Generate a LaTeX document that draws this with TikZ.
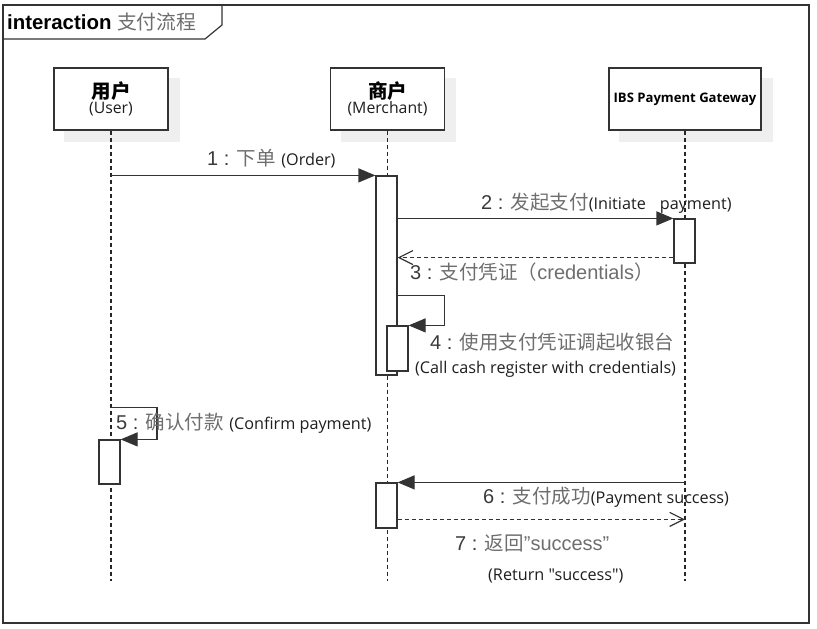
\documentclass[tikz,border=0pt]{standalone}
\usepackage{fontspec}
\setmainfont{Liberation Sans}
\newfontfamily\cjk{Noto Sans CJK SC}
\newfontfamily\segf{Open Sans}
\usetikzlibrary{arrows.meta,backgrounds}
\definecolor{framecol}{HTML}{333333}
\definecolor{numcol}{HTML}{3A3A3A}
\definecolor{cncol}{HTML}{6E6E6E}
\definecolor{engcol}{HTML}{1E1E1E}
\definecolor{shadowcol}{HTML}{EFEFEF}
\tikzset{
  lw/.style={line width=1.2pt, draw=framecol},
  headbox/.style={lw, fill=white, rectangle, minimum height=62pt, inner sep=0pt, align=center,
    font=\segf\fontsize{15.8}{19}\selectfont, text=engcol},
  lifeline/.style={line width=1.2pt, draw=black!85, dash pattern=on 4pt off 3pt},
  actbox/.style={lw, fill=white, rectangle, minimum width=21pt, inner sep=0pt},
  msg/.style={lw, -{Triangle[length=17pt,width=14pt]}},
  retmsg/.style={lw, dash pattern=on 4pt off 3pt, -{Straight Barb[length=14pt,width=14pt,line width=1.2pt]}},
  lbl/.style={inner sep=0pt, anchor=west, text=numcol},
  numtxt/.style={font=\fontsize{20}{20}\selectfont},
}
\newcommand{\cn}[1]{{\cjk\fontsize{19.5}{20}\selectfont\color{cncol}#1}}
\newcommand{\en}[1]{{\segf\fontsize{16.2}{16}\selectfont\color{engcol}#1}}
\begin{document}
\begin{tikzpicture}[x=1pt,y=-1pt]
\useasboundingbox (0,0) rectangle (817,629);
% frame
\draw[lw] (3,5) rectangle (809,623);
\draw[lw] (3,39) -- (205,39) -- (222,25) -- (222,5);
\node[inner sep=0pt, anchor=west] (title) at (7,22)
  {\fontsize{20.4}{20}\selectfont\bfseries interaction\mdseries\ \cjk\color{cncol}\fontsize{19.8}{20}\selectfont 支付流程};

% lifeline heads
\node[headbox, minimum width=114pt] (user) at (111,99)
  {{\cjk\bfseries\fontsize{19.5}{19}\selectfont\color{black} 用户}\\[-4pt](User)};
\node[headbox, minimum width=114pt] (merch) at (387.5,99)
  {{\cjk\bfseries\fontsize{19.5}{19}\selectfont\color{black} 商户}\\[-4pt](Merchant)};
\node[headbox, minimum width=152pt] (gate) at (685,99)
  {\segf\bfseries\fontsize{13.1}{14}\selectfont\color{black} IBS Payment Gateway};
\begin{pgfonlayer}{background}
  \foreach \n in {user,merch,gate}
    \fill[shadowcol] ([shift={(11,11)}]\n.north west) rectangle ([shift={(11,11)}]\n.south east);
\end{pgfonlayer}

% lifelines
\draw[lifeline] (user.south) -- ++(0,450) coordinate (userend);
\draw[lifeline] (merch.south) -- ++(0,450) coordinate (merchend);
\draw[lifeline] (gate.south) -- ++(0,450) coordinate (gateend);

% activations
\node[actbox, minimum height=199pt] (a1) at (386.5,275.5) {};
\node[actbox, minimum height=44pt] (g1) at (684.5,241) {};
\node[actbox, minimum height=45pt] (a2) at (397.5,348.5) {};
\node[actbox, minimum height=44pt] (u1) at (109.5,462) {};
\node[actbox, minimum height=45pt] (a3) at (386.5,505.5) {};

% anchor points for messages
\coordinate (m3s) at ([yshift=6pt]g1.south west);
\coordinate (m4s) at ([yshift=-120pt]a1.north east);
\coordinate (m5r) at ([yshift=32pt]u1.north);
\coordinate (m7s) at ([yshift=-37pt]a3.north east);

% messages
\draw[msg] (user.south |- a1.north) -- (a1.north west);
\draw[msg] (a1.east |- g1.north) -- (g1.north west);
\draw[retmsg] (m3s) -- (a1.east |- m3s);
\draw[msg] (m4s) -- ++(47,0) |- (a2.north east);
\draw[msg] (user.south |- m5r) -- ++(46,0) |- (u1.north east);
\draw[msg] (gate.south |- a3.north) -- (a3.north east);
\draw[retmsg] (m7s) -- (gate.south |- m7s);

% labels
\node[lbl, numtxt] (l1) at (207,159) {1 : \cn{下单} \en{(Order)}};
\node[lbl, numtxt] (l2) at (481,203) {2 : \cn{发起支付}\en{(Initiate\hspace{14pt}payment)}};
\node[lbl, numtxt] (l3) at (410,272) {3 : \cn{支付凭证（}{\color{cncol}credentials}\cn{）}};
\node[lbl, numtxt] (l4) at (430,342) {4 : \cn{使用支付凭证调起收银台}};
\node[lbl] (l4b) at (415,369) {\en{(Call cash register with credentials)}};
\node[lbl, numtxt] (l5) at (116,423) {5 : \cn{确认付款} \en{(Confirm payment)}};
\node[lbl, numtxt] (l6) at (483,497) {6 : \cn{支付成功}\en{(Payment success)}};
\node[lbl, numtxt] (l7) at (455,543) {7 : \cn{返回}{\color{cncol}"success"}};
\node[lbl] (l7b) at (488,576) {\en{(Return "success")}};
\end{tikzpicture}
\end{document}
